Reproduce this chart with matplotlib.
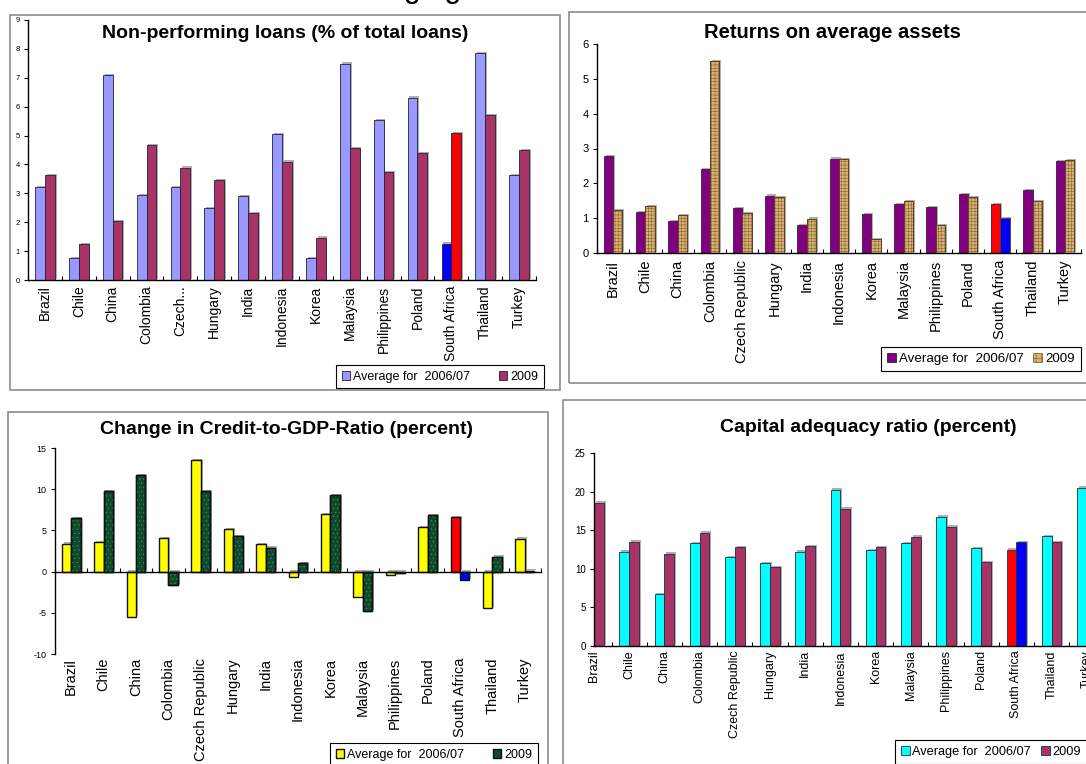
import numpy as np
import matplotlib
matplotlib.use('Agg')
import matplotlib.pyplot as plt
from matplotlib.patches import Rectangle, Patch
import matplotlib.patheffects as pe

plt.rcParams['font.family'] = ['Liberation Sans', 'DejaVu Sans']
plt.rcParams['hatch.linewidth'] = 0.4

# ---------------- data ----------------
countries = ['Brazil', 'Chile', 'China', 'Colombia', 'Czech Republic', 'Hungary', 'India',
             'Indonesia', 'Korea', 'Malaysia', 'Philippines', 'Poland', 'South Africa',
             'Thailand', 'Turkey']
countries_npl = ['Brazil', 'Chile', 'China', 'Colombia', 'Czech...', 'Hungary', 'India',
                 'Indonesia', 'Korea', 'Malaysia', 'Philippines', 'Poland', 'South Africa',
                 'Thailand', 'Turkey']
legend_labels = ['Average for  2006/07', '2009']

npl_avg = [3.21, 0.75, 7.10, 2.94, 3.21, 2.49, 2.90, 5.05, 0.77, 7.49, 5.54, 6.31, 1.26, 7.86, 3.64]
npl_2009 = [3.64, 1.23, 2.04, 4.67, 3.89, 3.47, 2.31, 4.10, 1.47, 4.57, 3.74, 4.38, 5.08, 5.70, 4.50]

roa_avg = [2.78, 1.18, 0.92, 2.40, 1.29, 1.65, 0.80, 2.71, 1.11, 1.40, 1.31, 1.69, 1.40, 1.80, 2.64]
roa_2009 = [1.23, 1.34, 1.09, 5.51, 1.14, 1.61, 0.99, 2.70, 0.40, 1.49, 0.80, 1.60, 1.00, 1.49, 2.66]

credit_avg = [3.39, 3.59, -5.45, 4.08, 13.49, 5.13, 3.31, -0.69, 6.99, -3.11, -0.44, 5.41, 6.62, -4.40, 4.00]
credit_2009 = [6.50, 9.77, 11.67, -1.62, 9.77, 4.32, 2.91, 1.05, 9.29, -4.77, -0.12, 6.83, -1.01, 1.82, 0.12]

car_avg = [np.nan, 12.24, 6.68, 13.28, 11.47, 10.69, 12.24, 20.26, 12.46, 13.36, 16.77, 12.63, 12.50, 14.22, 20.52]
car_2009 = [18.58, 13.53, 11.98, 14.70, 12.76, 10.17, 12.89, 17.80, 12.84, 14.18, 15.47, 10.82, 13.45, 13.41, np.nan]

# ---------------- layout helpers ----------------
W, H = 1086, 764
fig = plt.figure(figsize=(W / 100, H / 100), dpi=100)


def rect(l, t, r, b):
    return [l / W, 1 - b / H, (r - l) / W, (b - t) / H]


def frame(l, t, r, b):
    fig.patches.append(Rectangle((l / W, 1 - b / H), (r - l) / W, (b - t) / H,
                                 transform=fig.transFigure, fill=False,
                                 edgecolor='#8c8c8c', linewidth=1.2, zorder=0))


SA = 12
shadow = [pe.SimplePatchShadow(offset=(1.3, 0.9), shadow_rgbFace='#9a9a9a', alpha=0.8), pe.Normal()]


def draw_bars(ax, avg, new, c_avg, c_new, sa_avg, sa_new, width, edge, lw,
              hatch=None, hatch_color=None, edge_new=None):
    avg = np.asarray(avg, dtype=float)
    new = np.asarray(new, dtype=float)
    x = np.arange(len(avg))
    ca = [sa_avg if i == SA else c_avg for i in x]
    cn = [sa_new if i == SA else c_new for i in x]
    en = edge if edge_new is None else edge_new
    ma = ~np.isnan(avg)
    mn = ~np.isnan(new)
    b1 = ax.bar(x[ma] - width / 2, avg[ma], width, color=np.array(ca)[ma],
                edgecolor=edge, linewidth=lw, zorder=2)
    b2 = ax.bar(x[mn] + width / 2, new[mn], width, color=np.array(cn)[mn],
                edgecolor=en, linewidth=lw, zorder=2)
    for p in list(b1) + list(b2):
        p.set_path_effects(shadow)
    if hatch:
        mh = mn & (x != SA)
        ax.bar(x[mh] + width / 2, new[mh], width, fill=False, hatch=hatch,
               edgecolor=hatch_color, linewidth=0, zorder=3)
        ax.bar(x[mh] + width / 2, new[mh], width, fill=False,
               edgecolor=en, linewidth=lw, zorder=4)


def style_axes(ax, labels, ylim, yticks, ytick_fs, label_fs, xlim, label_pad=3):
    n = len(labels)
    ax.set_yticks(yticks)
    ax.set_yticklabels([str(v) for v in yticks], fontsize=ytick_fs)
    ax.set_xticks(np.arange(n))
    ax.set_xticklabels(labels, rotation=90, fontsize=label_fs)
    minor = np.arange(-1, n) + 0.5
    minor = minor[(minor >= xlim[0]) & (minor <= xlim[1])]
    ax.set_xticks(minor, minor=True)
    ax.tick_params(axis='x', which='major', length=0, pad=label_pad)
    ax.tick_params(axis='x', which='minor', length=3, direction='in', width=0.8)
    ax.tick_params(axis='y', which='major', length=3, direction='out', width=0.8, pad=3)
    for s in ['top', 'right']:
        ax.spines[s].set_visible(False)
    for s in ['left', 'bottom']:
        ax.spines[s].set_linewidth(1.0)
        ax.spines[s].set_color('black')
    ax.set_xlim(*xlim)
    ax.set_ylim(*ylim)
    ax.patch.set_alpha(0)


def add_legend(handles, left, top, fs, colsp=1.8):
    lg = fig.legend(handles=handles, labels=legend_labels, ncol=2, loc='upper left',
                    bbox_to_anchor=(left / W, 1 - top / H), frameon=True, fancybox=False,
                    edgecolor='black', framealpha=1, fontsize=fs, handlelength=0.7,
                    handleheight=0.7, handletextpad=0.2, columnspacing=colsp,
                    borderpad=0.45, borderaxespad=0)
    lg.get_frame().set_linewidth(0.8)
    return lg


# page heading, cut off at the top edge of the picture (only descenders visible)
fig.text(331 / W, 1 + 3 / H, 'Emerging', ha='left', va='baseline', fontsize=22)

# ---------------- panel 1: NPL ----------------
frame(10, 15, 560, 390)
ax1 = fig.add_axes(rect(28, 20, 536, 280))
draw_bars(ax1, npl_avg, npl_2009, '#9999FF', '#AA3366', '#0000FF', '#FF0000',
          0.29, '#202040', 0.6)
style_axes(ax1, countries_npl, (0, 9), list(range(0, 10)), 5.5, 10, (-0.5, 14.5), 4)
fig.text(285 / W, 1 - 33 / H, 'Non-performing loans (% of total loans)', ha='center',
         va='center', fontsize=14, fontweight='bold')
add_legend([Patch(facecolor='#9999FF', edgecolor='#202040', linewidth=0.6),
            Patch(facecolor='#AA3366', edgecolor='#202040', linewidth=0.6)], 336, 365, 9, 2.3)

# ---------------- panel 2: ROA ----------------
frame(569, 12, 1095, 383)
ax2 = fig.add_axes(rect(597, 44, 1081, 253))
draw_bars(ax2, roa_avg, roa_2009, '#800080', '#D6B27A', '#FF0000', '#0000FF',
          0.29, '#3a1a3a', 0.6, hatch='+++++', hatch_color='#8a6428', edge_new='#5a4020')
style_axes(ax2, countries, (0, 6), list(range(0, 7)), 8, 10.5, (-0.5, 14.5), 5)
fig.text(832 / W, 1 - 33 / H, 'Returns on average assets', ha='center', va='center',
         fontsize=14.5, fontweight='bold')
add_legend([Patch(facecolor='#800080', edgecolor='#3a1a3a', linewidth=0.6),
            Patch(facecolor='#D6B27A', edgecolor='#8a6428', hatch='+++', linewidth=0.6)],
           881, 347, 9.6, 0.7)

# ---------------- panel 3: Credit-to-GDP ----------------
frame(8, 412, 548, 780)
ax3 = fig.add_axes(rect(55, 448, 541, 654))
ax3.spines['bottom'].set_position(('data', 0))
draw_bars(ax3, credit_avg, credit_2009, '#FFFF00', '#0E4A2C', '#FF0000', '#0000FF',
          0.29, '#101010', 1.0, hatch='....', hatch_color='#3c8a5c')
style_axes(ax3, countries, (-10, 15), [-10, -5, 0, 5, 10, 15], 6.5, 10.5, (-0.5, 14.5), 62)
fig.text(287 / W, 1 - 430 / H, 'Change in Credit-to-GDP-Ratio (percent)', ha='center',
         va='center', fontsize=14, fontweight='bold')
add_legend([Patch(facecolor='#FFFF00', edgecolor='#101010', linewidth=1.0),
            Patch(facecolor='#0E4A2C', edgecolor='#101010', linewidth=1.0)], 330, 743, 9, 2.3)

# ---------------- panel 4: Capital adequacy ----------------
frame(563, 400, 1095, 780)
ax4 = fig.add_axes(rect(594, 453, 594 + 15 * 35.2, 646))
draw_bars(ax4, car_avg, car_2009, '#00FFFF', '#AA3366', '#FF0000', '#0000FF',
          0.28, '#1a3040', 0.6)
style_axes(ax4, countries, (0, 25), [0, 5, 10, 15, 20, 25], 7, 9, (0, 15), 3)
fig.text(868 / W, 1 - 428 / H, 'Capital adequacy ratio (percent)', ha='center',
         va='center', fontsize=14, fontweight='bold')
add_legend([Patch(facecolor='#00FFFF', edgecolor='#1a3040', linewidth=0.6),
            Patch(facecolor='#AA3366', edgecolor='#1a3040', linewidth=0.6)], 895, 740, 9.2, 0.8)

fig.savefig('out.png', dpi=100)
